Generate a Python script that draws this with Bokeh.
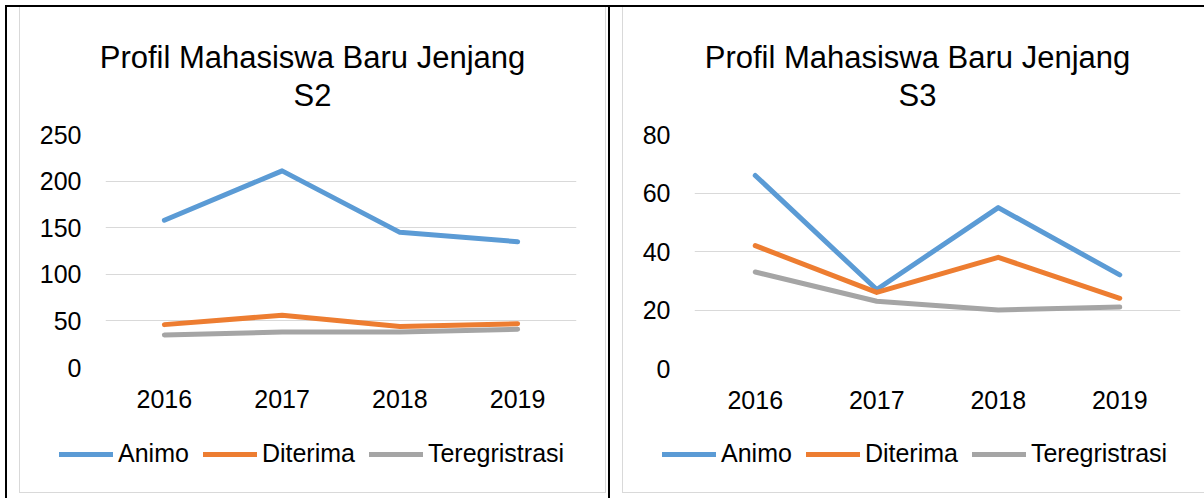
from bokeh.plotting import figure
from bokeh.layouts import row, column
from bokeh.models import (Range1d, FactorRange, FixedTicker, Legend, LegendItem,
                          Label, Div, Spacer)
from bokeh.embed import file_html
from bokeh.resources import INLINE

# ---------------- data ----------------
years = ["2016", "2017", "2018", "2019"]
series_names = ["Animo", "Diterima", "Teregristrasi"]
series_colors = ["#5B9BD5", "#ED7D31", "#A5A5A5"]

s2_title = ["Profil Mahasiswa Baru Jenjang", "S2"]
s2_animo = [158, 211, 145, 135]
s2_diterima = [46, 56, 44, 47]
s2_teregristrasi = [35, 38, 38, 41]
s2_ticks = [0, 50, 100, 150, 200, 250]

s3_title = ["Profil Mahasiswa Baru Jenjang", "S3"]
s3_animo = [66, 27, 55, 32]
s3_diterima = [42, 26, 38, 24]
s3_teregristrasi = [33, 23, 20, 21]
s3_ticks = [0, 20, 40, 60, 80]

FONT = "Liberation Sans"
GRID = "#D9D9D9"
BOX = "#D9D9D9"
TXT = "25px"
NAN = float("nan")


def block(w, h, color=None):
    if color is None:
        return Spacer(width=w, height=h, margin=0)
    return Div(text="", width=w, height=h, margin=0,
               styles={"background-color": color})


def strip(w, h):
    """A figure whose frame is the whole canvas, measured in pixels from its top-left."""
    s = figure(x_range=Range1d(0, w), y_range=Range1d(h, 0), width=w, height=h,
               output_backend="svg", toolbar_location=None, margin=0,
               x_axis_location=None, y_axis_location=None, frame_align=False,
               min_border=0, min_border_left=0, min_border_right=0,
               min_border_top=0, min_border_bottom=0)
    s.outline_line_color = None
    s.grid.grid_line_color = None
    s.background_fill_color = "white"
    s.border_fill_color = "white"
    return s


def title_strip(lines, w, h, cx, baselines):
    t = strip(w, h)
    for txt, by in zip(lines, baselines):
        t.add_layout(Label(x=cx, y=by, text=txt, text_align="center",
                           text_baseline="alphabetic", text_font=FONT,
                           text_font_size="31px", text_color="black"))
    return t


def legend_strip(w, h, loc):
    s = strip(w, h)
    items = []
    for name, col in zip(series_names, series_colors):
        # legend-only renderer: one undefined point, nothing is drawn in the strip
        r = s.line(x=[NAN], y=[NAN], line_width=5, line_color=col,
                   line_cap="round", line_join="round")
        items.append(LegendItem(label=name, renderers=[r]))
    legend = Legend(items=items, location=loc, orientation="horizontal",
                    glyph_width=54, glyph_height=20, label_standoff=5, spacing=14,
                    padding=0, margin=0, border_line_color=None,
                    background_fill_alpha=0,
                    label_text_font=FONT, label_text_font_size=TXT,
                    label_text_color="black")
    s.add_layout(legend)
    return s


def chart(series, ticks, width, height, frame_left, frame_w, frame_top, frame_h):
    p = figure(x_range=FactorRange(*years, range_padding=0),
               y_range=Range1d(ticks[0], ticks[-1]),
               width=width, height=height, output_backend="svg",
               toolbar_location=None, margin=0, frame_align=False,
               min_border_left=frame_left,
               min_border_right=width - frame_left - frame_w,
               min_border_top=frame_top,
               min_border_bottom=height - frame_top - frame_h)
    p.outline_line_color = None
    p.background_fill_color = "white"
    p.border_fill_color = "white"
    p.xgrid.grid_line_color = None
    p.ygrid.grid_line_color = GRID
    p.ygrid.grid_line_width = 1
    for ax in (p.xaxis[0], p.yaxis[0]):
        ax.axis_line_color = None
        ax.major_tick_line_color = None
        ax.minor_tick_line_color = None
        ax.major_tick_out = 0
        ax.major_tick_in = 0
        ax.minor_tick_out = 0
        ax.minor_tick_in = 0
        ax.major_label_text_font = FONT
        ax.major_label_text_font_size = TXT
        ax.major_label_text_color = "black"
    p.xaxis[0].major_label_standoff = 22
    p.yaxis[0].major_label_standoff = 24
    p.yaxis[0].ticker = FixedTicker(ticks=ticks)
    for vals, col in zip(series, series_colors):
        p.line(years, vals, line_width=5, line_color=col,
               line_cap="round", line_join="round")
    return p


TH, CH, LH = 108, 315, 62         # title / chart / legend strip heights
H = TH + CH + LH                  # 485

c1_w = 585
c1 = column(
    title_strip(s2_title, c1_w, TH, 292, [50.2, 87.5]),
    chart([s2_animo, s2_diterima, s2_teregristrasi], s2_ticks, c1_w, CH,
          frame_left=85, frame_w=471, frame_top=19, frame_h=233),
    legend_strip(c1_w, LH, (39, 24)),
    spacing=0, margin=0)

c2_w = 581
c2 = column(
    title_strip(s3_title, c2_w, TH, 294, [50.2, 87.5]),
    chart([s3_animo, s3_diterima, s3_teregristrasi], s3_ticks, c2_w, CH,
          frame_left=71, frame_w=486, frame_top=19, frame_h=234),
    legend_strip(c2_w, LH, (39, 24)),
    spacing=0, margin=0)

cell1 = column(row(block(1, H, BOX), c1, block(1, H, BOX), spacing=0, margin=0),
               block(587, 1, BOX), block(587, 5), spacing=0, margin=0)
cell2 = column(row(block(1, H, BOX), c2, spacing=0, margin=0),
               block(582, 1, BOX), block(582, 5), spacing=0, margin=0)

inner = row(block(2, 491, "black"), block(12, 491), cell1, block(2, 491),
            block(2, 491, "black"), block(12, 491), cell2, spacing=0, margin=0)
right_part = column(block(1199, 2, "black"), inner, spacing=0, margin=0)
layout = column(block(1204, 5), row(block(5, 493), right_part, spacing=0, margin=0),
                spacing=0, margin=0)

open("out.html", "w").write(file_html(layout, INLINE))
